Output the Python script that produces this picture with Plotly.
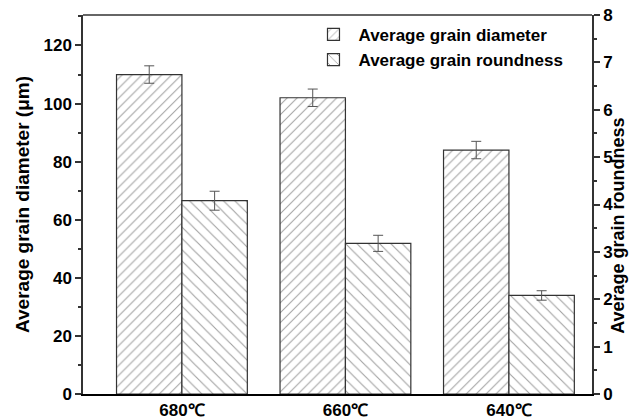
import plotly.graph_objects as go

categories = ["680℃", "660℃", "640℃"]
diameter = [110, 102, 84]
diameter_err = [3, 3, 3]
roundness = [4.08, 3.18, 2.08]
roundness_err = [0.2, 0.17, 0.1]

xpos = list(range(len(categories)))
FONT = "Liberation Sans, Arial, sans-serif"

fig = go.Figure()
fig.add_trace(go.Bar(
    x=xpos, y=diameter, name="<b>Average grain diameter</b>",
    width=0.4, offset=-0.4, yaxis="y",
    marker=dict(color="white", line=dict(color="#333", width=1.2),
                pattern=dict(shape="/", size=7, solidity=0.15, fgcolor="#444", bgcolor="white")),
    error_y=dict(type="data", array=diameter_err, color="#555", thickness=1, width=5),
))
fig.add_trace(go.Bar(
    x=xpos, y=roundness, name="<b>Average grain roundness</b>",
    width=0.4, offset=0, yaxis="y2",
    marker=dict(color="white", line=dict(color="#333", width=1.2),
                pattern=dict(shape="\\", size=8, solidity=0.14, fgcolor="#444", bgcolor="white")),
    error_y=dict(type="data", array=roundness_err, color="#555", thickness=1, width=5),
))

fig.update_layout(
    width=629, height=419,
    margin=dict(l=83, r=37, t=15, b=25),
    paper_bgcolor="white", plot_bgcolor="white",
    font=dict(family=FONT, size=17, color="black"),
    showlegend=True,
    legend=dict(x=0.443, y=0.995, xanchor="left", yanchor="top",
                bgcolor="rgba(0,0,0,0)", font=dict(size=17, family=FONT),
                tracegroupgap=0, itemwidth=40),
    xaxis=dict(range=[-0.605, 2.508], tickvals=xpos,
               ticktext=["<b>%s</b>" % c for c in categories],
               showline=True, linecolor="black", linewidth=2,
               mirror=False, ticks="", showgrid=False, zeroline=False,
               automargin=False, tickfont=dict(size=17)),
    yaxis=dict(range=[0, 130.5], tickvals=[0, 20, 40, 60, 80, 100, 120],
               ticktext=["<b>%d</b>" % v for v in [0, 20, 40, 60, 80, 100, 120]],
               ticks="outside", ticklen=6, tickcolor="#333", tickwidth=1.5,
               minor=dict(tickvals=[10, 30, 50, 70, 90, 110, 130], ticks="outside", ticklen=3,
                          tickcolor="#333", tickwidth=1.5),
               showline=True, linecolor="#333", linewidth=1.5,
               showgrid=False, zeroline=False, automargin=False,
               tickfont=dict(size=17),
               title=dict(text="<b>Average grain diameter (μm)</b>", standoff=9,
                          font=dict(size=19))),
    yaxis2=dict(range=[0, 8], overlaying="y", side="right",
                tickvals=list(range(9)),
                ticktext=["<b>%d</b>" % v for v in range(9)],
                ticks="outside", ticklen=6, tickcolor="#333", tickwidth=1.5,
                minor=dict(tickvals=[0.5 + i for i in range(8)], ticks="outside", ticklen=3,
                           tickcolor="#333", tickwidth=1.5),
                showline=True, linecolor="#333", linewidth=1.5,
                showgrid=False, zeroline=False, automargin=False,
                tickfont=dict(size=17)),
)
# right axis title (placed slightly below centre as in the reference)
fig.add_annotation(text="<b>Average grain roundness</b>", textangle=-90,
                   xref="paper", yref="paper", x=1.0505, y=0.443,
                   xanchor="center", yanchor="middle", showarrow=False, borderpad=0,
                   font=dict(size=18, family=FONT, color="black"))
# top frame line
fig.add_shape(type="line", xref="paper", yref="paper", x0=0, x1=1, y0=1, y1=1,
              line=dict(color="#333", width=1.5))

fig.write_html("out.html")
